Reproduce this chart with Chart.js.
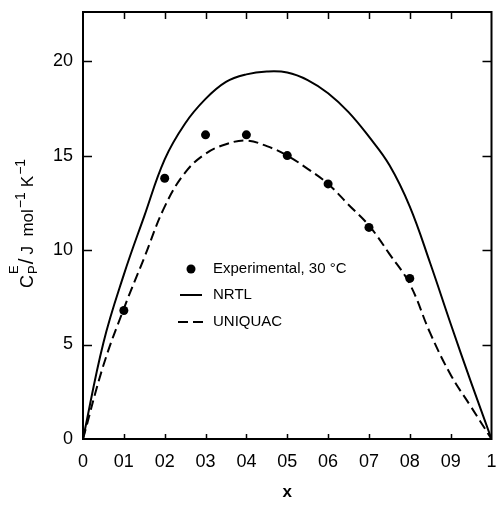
<!DOCTYPE html>
<html>
<head>
<meta charset="utf-8">
<script src="https://cdn.jsdelivr.net/npm/chart.js@4/dist/chart.umd.min.js"></script>
<style>
  html, body { margin: 0; padding: 0; background: #fff; }
  #wrap { width: 496px; height: 509px; }
</style>
</head>
<body>
<div id="wrap"><canvas id="cp"></canvas></div>
<script>
// tick values / labels
var xTickValues = [0, 0.1, 0.2, 0.3, 0.4, 0.5, 0.6, 0.7, 0.8, 0.9, 1];
var xTickLabels = ['0', '01', '02', '03', '04', '05', '06', '07', '08', '09', '1'];
var yTickValues = [0, 5, 10, 15, 20];

// experimental points, 30 C
var expX = [0.1, 0.2, 0.3, 0.4, 0.5, 0.6, 0.7, 0.8];
var expY = [6.8, 13.8, 16.1, 16.1, 15.0, 13.5, 11.2, 8.5];

// model curves
var curveX = [0, 0.05, 0.1, 0.15, 0.2, 0.25, 0.3, 0.35, 0.4, 0.45, 0.5,
              0.55, 0.6, 0.65, 0.7, 0.75, 0.8, 0.85, 0.9, 0.95, 1];
var nrtlY = [0, 5.1, 8.7, 11.8, 14.8, 16.7, 18.0, 18.9, 19.3, 19.45, 19.4,
             19.0, 18.3, 17.3, 16.0, 14.5, 12.3, 9.3, 6.1, 3.0, 0];
var uniquacY = [0, 3.9, 6.9, 9.6, 12.3, 14.1, 15.1, 15.6, 15.8, 15.5, 15.0,
                14.3, 13.5, 12.4, 11.3, 9.8, 8.2, 5.6, 3.4, 1.7, 0];

var FONT = "'Liberation Sans', Arial, sans-serif";

function toPoints(xs, ys) {
  return xs.map(function(x, i) { return {x: x, y: ys[i]}; });
}

// frame, inward ticks, legend and y title
var decorPlugin = {
  id: 'decor',
  afterDraw: function(chart) {
    var ctx = chart.ctx;
    var a = chart.chartArea;
    var xs = chart.scales.x, ys = chart.scales.y;
    ctx.save();
    ctx.strokeStyle = '#000';
    ctx.lineWidth = 2;
    ctx.strokeRect(a.left, a.top, a.right - a.left, a.bottom - a.top);

    ctx.lineWidth = 1.5;
    ctx.beginPath();
    xTickValues.slice(1, -1).forEach(function(v) {
      var px = Math.round(xs.getPixelForValue(v)) + 0.5;
      ctx.moveTo(px, a.bottom); ctx.lineTo(px, a.bottom - 5);
      ctx.moveTo(px, a.top); ctx.lineTo(px, a.top + 7);
    });
    yTickValues.slice(1).forEach(function(v) {
      var py = Math.round(ys.getPixelForValue(v)) + 0.5;
      ctx.moveTo(a.left, py); ctx.lineTo(a.left + 9, py);
      ctx.moveTo(a.right, py); ctx.lineTo(a.right - 9, py);
    });
    ctx.stroke();

    // legend
    var tx = 213;
    var rows = [269, 295, 322];
    ctx.fillStyle = '#000';
    ctx.beginPath();
    ctx.arc(191, rows[0], 4.5, 0, Math.PI * 2);
    ctx.fill();
    ctx.lineWidth = 2;
    ctx.beginPath();
    ctx.moveTo(180, rows[1]); ctx.lineTo(202, rows[1]);
    ctx.stroke();
    ctx.setLineDash([10, 5]);
    ctx.beginPath();
    ctx.moveTo(178, rows[2]); ctx.lineTo(203, rows[2]);
    ctx.stroke();
    ctx.setLineDash([]);
    ctx.font = '15px ' + FONT;
    ctx.textBaseline = 'middle';
    ctx.textAlign = 'left';
    ctx.fillText('Experimental, 30 \u00B0C', tx, rows[0]);
    ctx.fillText('NRTL', tx, rows[1]);
    ctx.fillText('UNIQUAC', tx, rows[2]);

    // y axis title, rotated
    ctx.translate(33, 288);
    ctx.rotate(-Math.PI / 2);
    ctx.textBaseline = 'alphabetic';
    var x = 0;
    ctx.font = '18px ' + FONT;
    ctx.fillText('C', x, 0);
    x += ctx.measureText('C').width + 1;
    ctx.font = '13px ' + FONT;
    ctx.fillText('P', x, 4);
    ctx.fillText('E', x, -15);
    x += ctx.measureText('P').width + 1;
    ctx.font = '21px ' + FONT;
    ctx.fillText('/', x, 0);
    x += ctx.measureText('/').width + 4;
    ctx.font = '17px ' + FONT;
    ctx.fillText('J  mol', x, 0);
    x += ctx.measureText('J  mol').width + 1;
    ctx.font = '14px ' + FONT;
    ctx.fillText('\u22121', x, -8);
    x += ctx.measureText('\u22121').width + 5;
    ctx.font = '17px ' + FONT;
    ctx.fillText('K', x, 0);
    x += ctx.measureText('K').width + 1;
    ctx.font = '14px ' + FONT;
    ctx.fillText('\u22121', x, -8);
    ctx.restore();
  }
};

new Chart(document.getElementById('cp'), {
  type: 'scatter',
  data: {
    datasets: [{
      label: 'Experimental, 30 \u00B0C',
      data: toPoints(expX, expY),
      pointRadius: 4.5,
      pointBackgroundColor: '#000',
      pointBorderWidth: 0,
      showLine: false
    }, {
      label: 'NRTL',
      data: toPoints(curveX, nrtlY),
      showLine: true,
      pointRadius: 0,
      borderColor: '#000',
      borderWidth: 2,
      tension: 0.4
    }, {
      label: 'UNIQUAC',
      data: toPoints(curveX, uniquacY),
      showLine: true,
      pointRadius: 0,
      borderColor: '#000',
      borderWidth: 2,
      borderDash: [10, 5],
      tension: 0.4
    }]
  },
  options: {
    responsive: true,
    maintainAspectRatio: false,
    animation: false,
    layout: { padding: { top: 12, right: 2, left: 0, bottom: 0 } },
    plugins: {
      legend: { display: false },
      tooltip: { enabled: false }
    },
    scales: {
      x: {
        type: 'linear',
        min: 0, max: 1,
        grid: { display: false, drawTicks: false },
        border: { display: false },
        afterBuildTicks: function(s) {
          s.ticks = xTickValues.map(function(v) { return {value: v}; });
        },
        afterFit: function(s) {
          s.height = 70;
          s.paddingLeft = 0;
          s.paddingRight = 0;
        },
        ticks: {
          color: '#000',
          padding: 12,
          maxRotation: 0,
          autoSkip: false,
          font: { family: FONT, size: 18 },
          callback: function(v) {
            var i = xTickValues.indexOf(Math.round(v * 10) / 10);
            return i >= 0 ? xTickLabels[i] : '';
          }
        },
        title: {
          display: true,
          text: 'x',
          color: '#000',
          font: { family: FONT, size: 17, weight: 'bold' },
          padding: { top: 0, bottom: 6 }
        }
      },
      y: {
        min: 0, max: 22.6,
        grid: { display: false, drawTicks: false },
        border: { display: false },
        afterBuildTicks: function(s) {
          s.ticks = yTickValues.map(function(v) { return {value: v}; });
        },
        afterFit: function(s) {
          s.width = 83;
          s.paddingTop = 0;
          s.paddingBottom = 0;
        },
        ticks: {
          color: '#000',
          padding: 10,
          font: { family: FONT, size: 18 }
        }
      }
    }
  },
  plugins: [decorPlugin]
});
</script>
</body>
</html>
